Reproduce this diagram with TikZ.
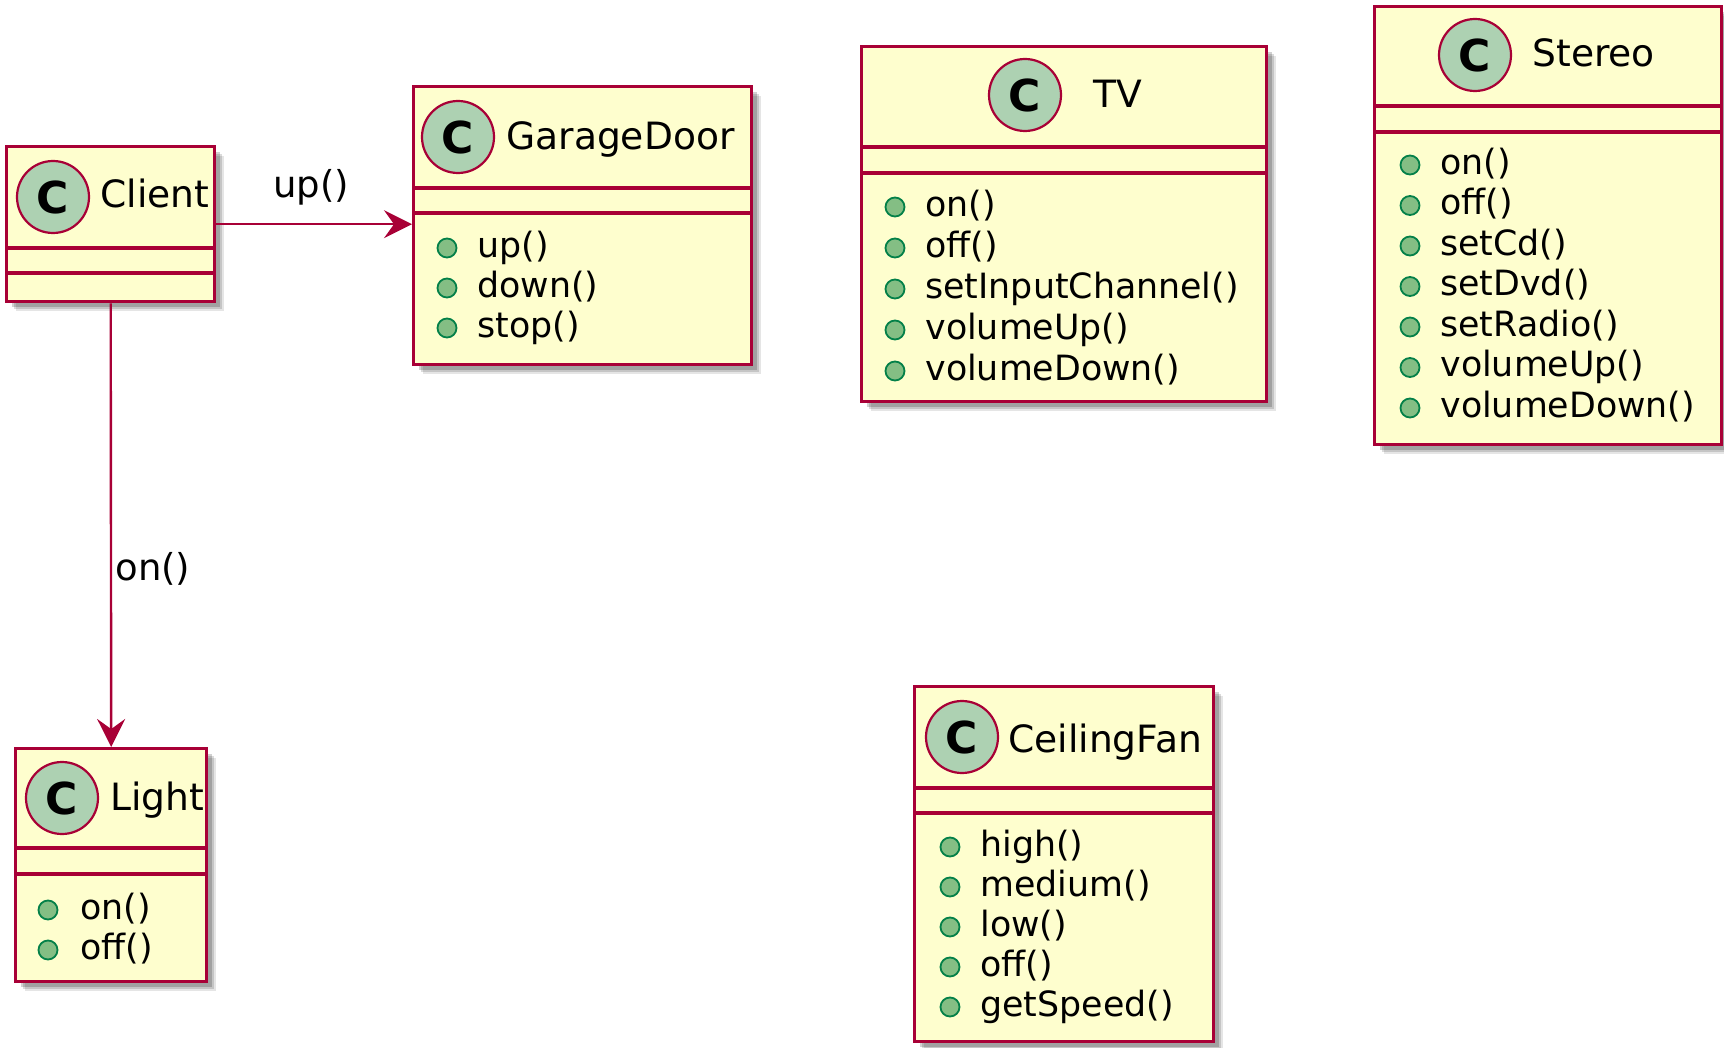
\documentclass[tikz,border=0pt]{standalone}
\usepackage{fontspec}
\setmainfont{DejaVu Sans}
\usetikzlibrary{arrows.meta,shadows}
\definecolor{umlfill}{HTML}{FEFECE}
\definecolor{umlborder}{HTML}{A80036}
\definecolor{circfill}{HTML}{ADD1B2}
\definecolor{bulfill}{HTML}{84BE84}
\definecolor{bulline}{HTML}{038048}
\begin{document}
\begin{tikzpicture}[x=0.5pt,y=-0.5pt,
  classbox/.style={rectangle, draw=umlborder, fill=umlfill, line width=1.7pt, inner sep=0pt, anchor=north west,
    drop shadow={shadow xshift=4.5pt, shadow yshift=-4.5pt, opacity=0.10, fill=black},
    drop shadow={shadow xshift=3.5pt, shadow yshift=-3.5pt, opacity=0.14, fill=black},
    drop shadow={shadow xshift=2.5pt, shadow yshift=-2.5pt, opacity=0.18, fill=black}},
  sepline/.style={draw=umlborder, line width=1.6pt},
  circ/.style={circle, draw=umlborder, fill=circfill, line width=1.1pt, minimum size=36pt, inner sep=0pt,
    font=\fontsize{22}{22}\selectfont\bfseries},
  title/.style={anchor=base west, inner sep=0pt, font=\fontsize{18.8}{18.8}\selectfont},
  member/.style={anchor=base west, inner sep=0pt, font=\fontsize{17.4}{17.4}\selectfont},
  bullet/.style={circle, draw=bulline, fill=bulfill, line width=0.9pt, minimum size=9.5pt, inner sep=0pt},
  lbl/.style={anchor=base west, inner sep=0pt, font=\fontsize{18.5}{18.5}\selectfont},
  conn/.style={draw=umlborder, line width=1.2pt, -{Stealth[length=14pt,width=14pt,inset=5pt]}}
]
\useasboundingbox (0,0) rectangle (1724,1048);

% Client
\node[classbox, minimum width=104pt, minimum height=77.5pt] (client) at (5,145) {};
\draw[sepline] (5,248) -- (213,248);
\draw[sepline] (5,273) -- (213,273);
\node[circ] (clientC) at (53,197) {C};
\node[title] (clientT) at (100,208) {Client};

% GarageDoor
\node[classbox, minimum width=169pt, minimum height=139pt] (gd) at (412,85) {};
\draw[sepline] (412,188) -- (750,188);
\draw[sepline] (412,213) -- (750,213);
\node[circ] (gdC) at (458,137) {C};
\node[title] (gdT) at (506,150) {GarageDoor};
\foreach \y/\t [count=\i] in {248/up(),288/down(),328/stop()}{
  \node[bullet] (gdb\i) at (447,\y) {};
  \node[member] (gdm\i) at (477,\y+9.3) {\t};
}

% TV
\node[classbox, minimum width=202.5pt, minimum height=177.5pt] (tv) at (860,45) {};
\draw[sepline] (860,147) -- (1265,147);
\draw[sepline] (860,173) -- (1265,173);
\node[circ] (tvC) at (1025,95) {C};
\node[title] (tvT) at (1093,108) {TV};
\foreach \y/\t [count=\i] in {207/on(),248/off(),289/setInputChannel(),330/volumeUp(),371/volumeDown()}{
  \node[bullet] (tvb\i) at (895,\y) {};
  \node[member] (tvm\i) at (925,\y+9.3) {\t};
}

% Stereo
\node[classbox, minimum width=173.5pt, minimum height=219pt] (st) at (1373,5) {};
\draw[sepline] (1373,106) -- (1720,106);
\draw[sepline] (1373,132) -- (1720,132);
\node[circ] (stC) at (1475,55) {C};
\node[title] (stT) at (1532,67) {Stereo};
\foreach \y/\t [count=\i] in {165/on(),205.5/off(),246/setCd(),286.5/setDvd(),327/setRadio(),367.5/volumeUp(),408/volumeDown()}{
  \node[bullet] (stb\i) at (1410,\y) {};
  \node[member] (stm\i) at (1440,\y+9.3) {\t};
}

% Light
\node[classbox, minimum width=95.5pt, minimum height=116.5pt] (light) at (14,747) {};
\draw[sepline] (14,848) -- (205,848);
\draw[sepline] (14,874) -- (205,874);
\node[circ] (lightC) at (62,798) {C};
\node[title] (lightT) at (110,810) {Light};
\foreach \y/\t [count=\i] in {910/on(),950/off()}{
  \node[bullet] (lb\i) at (48,\y) {};
  \node[member] (lm\i) at (80,\y+9.3) {\t};
}

% CeilingFan
\node[classbox, minimum width=149.5pt, minimum height=177.5pt] (cf) at (913,685) {};
\draw[sepline] (913,788) -- (1212,788);
\draw[sepline] (913,813) -- (1212,813);
\node[circ] (cfC) at (962,737) {C};
\node[title] (cfT) at (1008,752) {CeilingFan};
\foreach \y/\t [count=\i] in {847/high(),887/medium(),927/low(),967/off(),1007/getSpeed()}{
  \node[bullet] (cfb\i) at (950,\y) {};
  \node[member] (cfm\i) at (980,\y+9.3) {\t};
}

% connectors
\draw[conn] (client.east) -- (client.east -| gd.west);
\draw[conn] (client.south) -- (light.north);
\node[lbl] (lblup) at (273,198) {up()};
\node[lbl] (lblon) at (115,580) {on()};
\end{tikzpicture}
\end{document}
